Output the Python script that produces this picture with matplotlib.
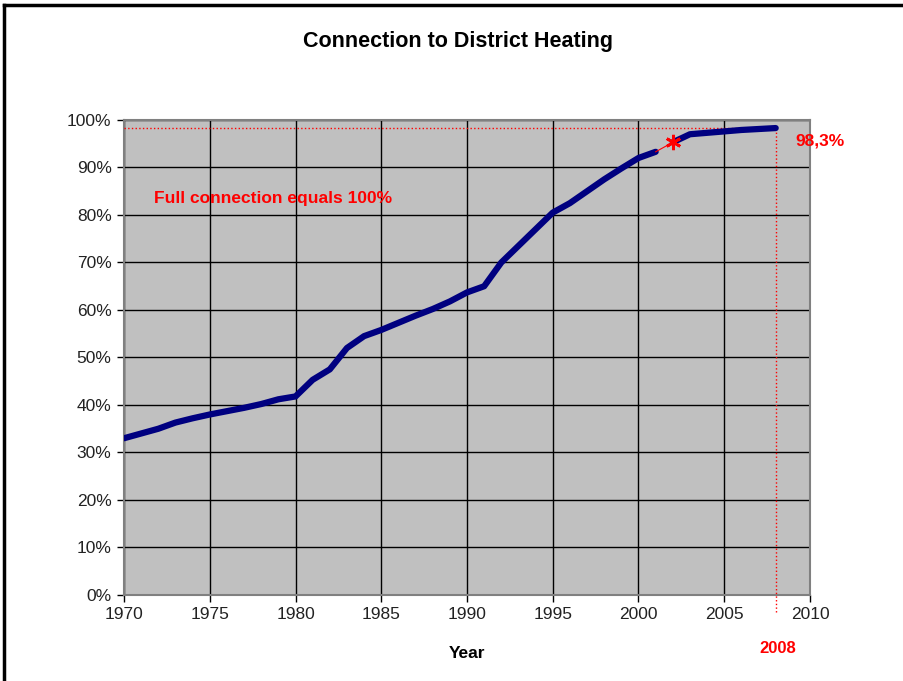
import matplotlib
matplotlib.use("Agg")
import matplotlib.pyplot as plt
from matplotlib.lines import Line2D
from matplotlib.ticker import PercentFormatter

plt.rcParams['font.family'] = ['Liberation Sans', 'DejaVu Sans']

# connection share in %
years_a = [1970, 1971, 1972, 1973, 1974, 1975, 1976, 1977, 1978, 1979, 1980,
           1981, 1982, 1983, 1984, 1985, 1986, 1987, 1988, 1989, 1990,
           1991, 1992, 1993, 1994, 1995, 1996, 1997, 1998, 1999, 2000, 2001]
share_a = [33.0, 34.0, 35.0, 36.3, 37.2, 38.0, 38.7, 39.4, 40.2, 41.2, 41.8,
           45.3, 47.5, 52.0, 54.5, 55.8, 57.3, 58.8, 60.2, 61.8, 63.7,
           65.0, 70.0, 73.5, 77.0, 80.5, 82.5, 85.0, 87.5, 89.8, 92.0, 93.3]
years_b = [2002, 2003, 2004, 2005, 2006, 2007, 2008]
share_b = [95.3, 97.0, 97.3, 97.6, 97.9, 98.1, 98.3]
gap_years = [2001, 2002]
gap_share = [93.3, 95.3]
final_year = 2008
final_share = 98.3

fig = plt.figure(figsize=(9.04, 6.81), dpi=100)
ax = fig.add_axes([0.1372, 0.1263, 0.7588, 0.6975])
ax.set_facecolor('#c0c0c0')

ax.plot(years_a, share_a, color='#000080', lw=4.5, solid_capstyle='round',
        solid_joinstyle='round', zorder=4)
ax.plot(years_b, share_b, color='#000080', lw=4.5, solid_capstyle='round',
        solid_joinstyle='round', zorder=4)
ax.plot(gap_years, gap_share, color='red', lw=0.8, zorder=5)
ax.plot([gap_years[1]], [gap_share[1]], marker=(6, 2, 0), color='red', ms=11, mew=2, zorder=6)

# reference lines for 2008
ax.plot([1970, final_year], [final_share, final_share], color='red', lw=1, ls=':', zorder=3)
ax.plot([final_year, final_year], [-3.6, final_share], color='red', lw=1, ls=':',
        zorder=3, clip_on=False)

ax.set_xlim(1970, 2010)
ax.set_ylim(0, 100)
ax.set_xticks(range(1970, 2011, 5))
ax.set_yticks(range(0, 101, 10))
ax.yaxis.set_major_formatter(PercentFormatter(decimals=0))
ax.grid(True, color='black', lw=1)
ax.set_axisbelow(True)
for s in ax.spines.values():
    s.set_color('#808080')
    s.set_linewidth(1.5)
ax.tick_params(direction='out', length=5, width=1, color='black',
               labelsize=12.5, labelcolor='#222222', pad=4)

ax.set_xlabel('Year', fontsize=12.5, fontweight='bold', labelpad=17)
fig.text(0.507, 0.939, 'Connection to District Heating', ha='center', va='center',
         fontsize=15.5, fontweight='bold')

ax.text(1971.75, 83.4, 'Full connection equals 100%', color='red', fontsize=12.5,
        fontweight='bold', va='center')
ax.text(2009.15, 95.6, '98,3%', color='red', fontsize=12.5, fontweight='bold', va='center')
ax.text(final_year + 0.1, -11.3, '2008', color='red', fontsize=12, fontweight='bold',
        ha='center', va='center')

# frame of the original slide
fig.add_artist(Line2D([0.0045, 0.0045], [0, 0.993], transform=fig.transFigure,
                      color='black', lw=2.5))
fig.add_artist(Line2D([0.0045, 1], [0.993, 0.993], transform=fig.transFigure,
                      color='black', lw=2.5))

fig.savefig('out.png', dpi=100)
